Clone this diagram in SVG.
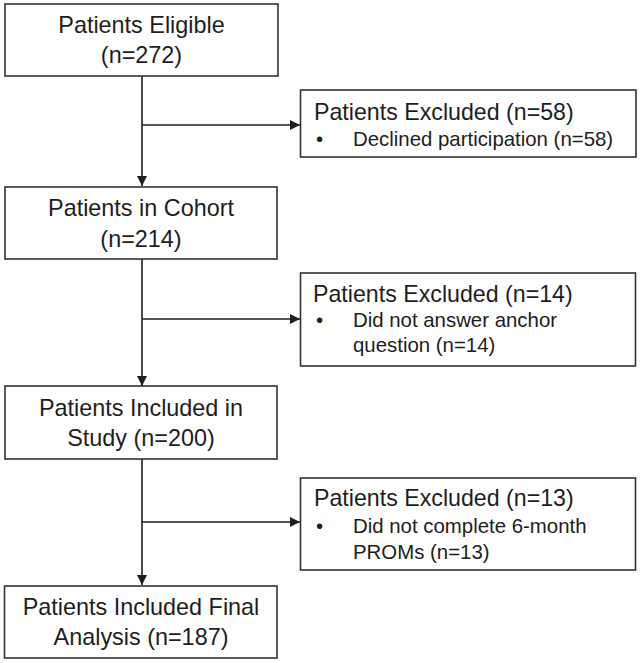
<svg xmlns="http://www.w3.org/2000/svg" width="640" height="663" viewBox="0 0 640 663">
<style>
  .box { fill: #ffffff; stroke: #333333; stroke-width: 1.6; }
  .main { font-family: "Liberation Sans", Arial, sans-serif; font-size: 23.4px; fill: #1e1e1e; text-anchor: middle; }
  .title { font-family: "Liberation Sans", Arial, sans-serif; font-size: 23.2px; fill: #1e1e1e; }
  .item { font-family: "Liberation Sans", Arial, sans-serif; font-size: 20.4px; fill: #1e1e1e; }
  .conn { fill: none; stroke: #1e1e1e; stroke-width: 1.6; }
</style>
<defs>
  <marker id="arrow" viewBox="0 0 10 10" refX="10" refY="5" markerWidth="10" markerHeight="10" markerUnits="userSpaceOnUse" orient="auto">
    <path d="M0,0 L10,5 L0,10 Z" fill="#1e1e1e"/>
  </marker>
</defs>
<rect width="640" height="663" fill="#ffffff"/>

<g id="connectors">
  <line class="conn" x1="142" y1="76" x2="142" y2="186" marker-end="url(#arrow)"/>
  <line class="conn" x1="142" y1="125" x2="300" y2="125" marker-end="url(#arrow)"/>
  <line class="conn" x1="142" y1="259" x2="142" y2="386" marker-end="url(#arrow)"/>
  <line class="conn" x1="142" y1="319" x2="300" y2="319" marker-end="url(#arrow)"/>
  <line class="conn" x1="142" y1="459" x2="142" y2="585" marker-end="url(#arrow)"/>
  <line class="conn" x1="142" y1="522" x2="300" y2="522" marker-end="url(#arrow)"/>
</g>

<g id="eligible">
  <rect class="box" x="5" y="4" width="273" height="72"/>
  <text class="main" x="141.5" y="33">Patients Eligible</text>
  <text class="main" x="141.5" y="63">(n=272)</text>
</g>

<g id="excluded1">
  <rect class="box" x="300.5" y="90" width="335.5" height="67"/>
  <text class="title" x="314" y="120">Patients Excluded (n=58)</text>
  <text class="item" x="316" y="146">•</text>
  <text class="item" x="353" y="146">Declined participation (n=58)</text>
</g>

<g id="cohort">
  <rect class="box" x="5" y="187" width="272" height="72"/>
  <text class="main" x="141" y="216">Patients in Cohort</text>
  <text class="main" x="141" y="247">(n=214)</text>
</g>

<g id="excluded2">
  <rect class="box" x="300.5" y="273" width="335" height="93"/>
  <text class="title" x="313" y="302">Patients Excluded (n=14)</text>
  <text class="item" x="316" y="327">•</text>
  <text class="item" x="353" y="327">Did not answer anchor</text>
  <text class="item" x="353" y="352">question (n=14)</text>
</g>

<g id="study">
  <rect class="box" x="5" y="386" width="272" height="73"/>
  <text class="main" x="141" y="416">Patients Included in</text>
  <text class="main" x="141" y="446">Study (n=200)</text>
</g>

<g id="excluded3">
  <rect class="box" x="300.5" y="478" width="335" height="92"/>
  <text class="title" x="314" y="506">Patients Excluded (n=13)</text>
  <text class="item" x="316" y="533">•</text>
  <text class="item" x="353" y="533">Did not complete 6-month</text>
  <text class="item" x="353" y="559">PROMs (n=13)</text>
</g>

<g id="final">
  <rect class="box" x="4.5" y="586" width="272.5" height="72"/>
  <text class="main" x="141" y="615">Patients Included Final</text>
  <text class="main" x="141" y="645">Analysis (n=187)</text>
</g>
</svg>
